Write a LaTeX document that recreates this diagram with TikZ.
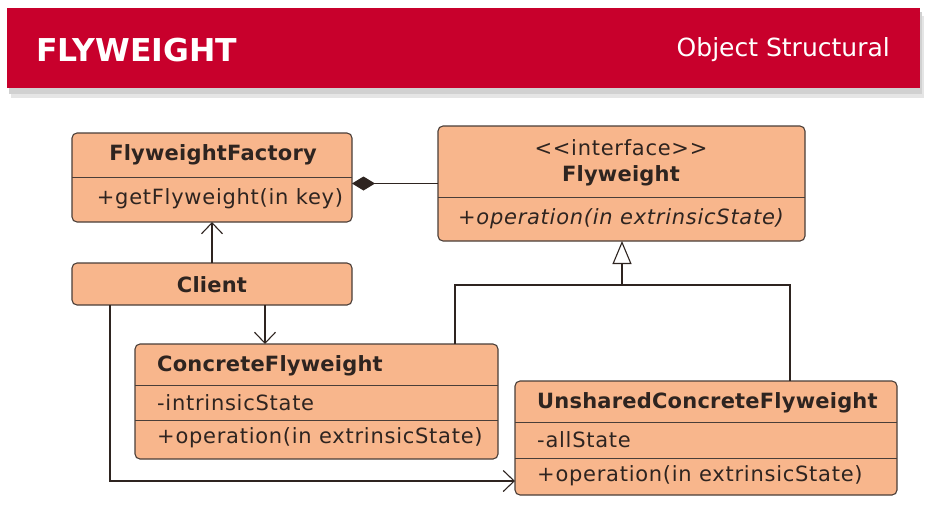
\documentclass[tikz,border=0pt]{standalone}
\usepackage{fontspec}
\setmainfont{DejaVu Sans}
\newfontfamily\regfam{DejaVu Sans}[LetterSpace=3.5]
\newfontfamily\ttlfam{DejaVu Sans}[LetterSpace=1]
\usetikzlibrary{arrows.meta,calc}
\definecolor{bannerred}{HTML}{C8002C}
\definecolor{peach}{HTML}{F8B68C}
\definecolor{edge}{HTML}{4A3E38}
\definecolor{ink}{HTML}{2E2420}
\tikzset{
  box/.style={draw=edge, line width=1.1pt, fill=peach, rounded corners=5pt, anchor=north west, inner sep=0pt, outer sep=0pt},
  divider/.style={draw=edge, line width=1pt},
  ttl/.style={font=\ttlfam\fontsize{21}{23}\selectfont\bfseries, text=ink, inner sep=0pt},
  txt/.style={font=\regfam\fontsize{21}{23}\selectfont, text=ink, inner sep=0pt},
  conn/.style={draw=ink, line width=1.1pt},
  barb/.style={-{Straight Barb[length=11pt,width=21pt,line width=1.1pt]}},
}
\begin{document}
\begin{tikzpicture}[x=1pt,y=-1pt]
\useasboundingbox (0,0) rectangle (932,507);
% banner
\fill[black!10] (11,16) rectangle (924,98);
\fill[black!18] (9,12) rectangle (922,94);
\node[fill=bannerred, anchor=north west, minimum width=913pt, minimum height=80pt, inner sep=0pt] (banner) at (7,8) {};
\node[font=\fontsize{31.5}{34}\selectfont\bfseries, text=white, anchor=west, inner sep=0pt] (title) at (36,50) {FLYWEIGHT};
\node[font=\fontsize{25}{27}\selectfont, text=white, anchor=east, inner sep=0pt] (cat) at (890,50) {Object Structural};
% boxes
\node[box, minimum width=280pt, minimum height=89pt] (fac) at (72,133) {};
\node[box, minimum width=367pt, minimum height=115pt] (fw) at (438,126) {};
\node[box, minimum width=280pt, minimum height=42pt] (cl) at (72,263) {};
\node[box, minimum width=363pt, minimum height=115pt] (cf) at (135,344) {};
\node[box, minimum width=382pt, minimum height=114pt] (us) at (515,381) {};
% dividers
\draw[divider] (fac.west |- 0,177) -- (fac.east |- 0,177);
\draw[divider] (fw.west |- 0,197) -- (fw.east |- 0,197);
\draw[divider] (cf.west |- 0,385) -- (cf.east |- 0,385);
\draw[divider] (cf.west |- 0,420) -- (cf.east |- 0,420);
\draw[divider] (us.west |- 0,422) -- (us.east |- 0,422);
\draw[divider] (us.west |- 0,458) -- (us.east |- 0,458);
% texts
\node[ttl] (facT) at (213,155) {FlyweightFactory};
\node[txt] (facO) at (220,199) {+getFlyweight(in key)};
\node[txt] (fwS) at (621,148) {<{}<interface>{}>};
\node[ttl] (fwT) at (621,176) {Flyweight};
\node[txt, font=\regfam\fontsize{21}{23}\selectfont\itshape] (fwO) at (621,219) {+operation(in extrinsicState)};
\node[ttl] (clT) at (212,285) {Client};
\node[ttl, anchor=west] (cfT) at (157,366) {ConcreteFlyweight};
\node[txt, anchor=west] (cfA) at (157,403) {-intrinsicState};
\node[txt, anchor=west] (cfO) at (157,438) {+operation(in extrinsicState)};
\node[ttl, anchor=west] (usT) at (537,403) {UnsharedConcreteFlyweight};
\node[txt, anchor=west] (usA) at (537,440) {-allState};
\node[txt, anchor=west] (usO) at (537,476) {+operation(in extrinsicState)};
% connectors
\draw[conn, {Diamond[length=23pt,width=14pt]}-] (fw.west -| fac.east) -- (fw.west);
\draw[conn, barb] (cl.north) -- (fac.south);
\coordinate (c1) at (265,0);
\draw[conn, barb] (cl.south -| c1) -- (cf.north -| c1);
\coordinate (c2) at (110,481);
\draw[conn, barb] (cl.south -| c2) -- (c2) -- (c2 -| us.west);
\coordinate (g) at (622,285);
\coordinate (gl) at (455,285);
\coordinate (gr) at (790,285);
\draw[conn, -{Triangle[open,length=23pt,width=19pt,fill=white]}] (g) -- (g |- fw.south);
\draw[conn] (cf.north -| gl) -- (gl) -- (gr) -- (us.north -| gr);
\end{tikzpicture}
\end{document}
